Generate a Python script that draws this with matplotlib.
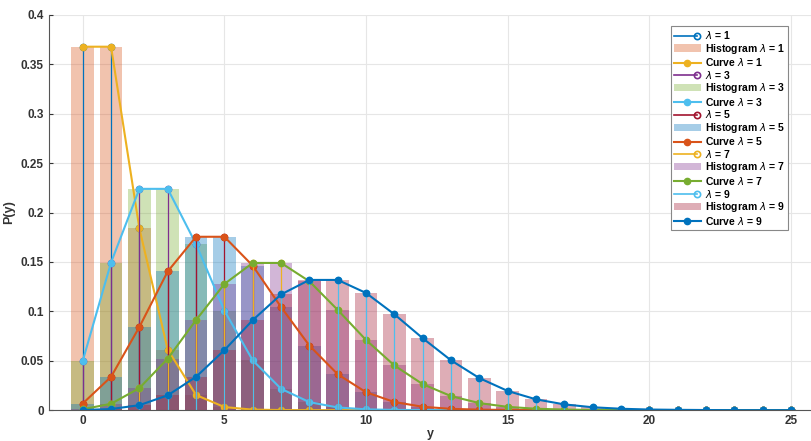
import matplotlib
matplotlib.use("Agg")
import matplotlib.pyplot as plt
from matplotlib.lines import Line2D
from matplotlib.patches import Patch
from matplotlib.legend_handler import HandlerLine2D
import numpy as np

plt.rcParams['font.family'] = ['Liberation Sans', 'DejaVu Sans']

y_vals = list(range(0, 26))
lambdas = [1, 3, 5, 7, 9]

p_l1 = [0.3679, 0.3679, 0.1839, 0.0613, 0.0153, 0.0031, 0.0005, 0.0001] + [0.0] * 18
p_l3 = [0.0498, 0.1494, 0.2240, 0.2240, 0.1680, 0.1008, 0.0504, 0.0216, 0.0081, 0.0027,
        0.0008, 0.0002, 0.0001] + [0.0] * 13
p_l5 = [0.0067, 0.0337, 0.0842, 0.1404, 0.1755, 0.1755, 0.1462, 0.1044, 0.0653, 0.0363,
        0.0181, 0.0082, 0.0034, 0.0013, 0.0005, 0.0002] + [0.0] * 10
p_l7 = [0.0009, 0.0064, 0.0223, 0.0521, 0.0912, 0.1277, 0.1490, 0.1490, 0.1304, 0.1014,
        0.0710, 0.0452, 0.0263, 0.0142, 0.0071, 0.0033, 0.0014, 0.0006, 0.0002, 0.0001] + [0.0] * 6
p_l9 = [0.0001, 0.0011, 0.0050, 0.0150, 0.0337, 0.0607, 0.0911, 0.1171, 0.1318, 0.1318,
        0.1186, 0.0970, 0.0728, 0.0504, 0.0324, 0.0194, 0.0109, 0.0058, 0.0029, 0.0014,
        0.0006, 0.0003, 0.0001, 0.0, 0.0, 0.0]
pmfs = [p_l1, p_l3, p_l5, p_l7, p_l9]

mcolors = ['#0072BD', '#D95319', '#EDB120', '#7E2F8E', '#77AC30', '#4DBEEE', '#A2142F']


class StemHandler(HandlerLine2D):
    def create_artists(self, legend, orig_handle, xdescent, ydescent, width, height,
                       fontsize, trans):
        arts = super().create_artists(legend, orig_handle, xdescent, ydescent, width,
                                      height, fontsize, trans)
        for a in arts:
            if isinstance(a, Line2D):
                x = np.asarray(a.get_xdata(), dtype=float).copy()
                x[-1] = x[-1] - 3.0
                a.set_xdata(x)
                a.set_markevery([len(x) - 1])
        return arts


fig = plt.figure(figsize=(8.12, 4.41), dpi=100)
ax = fig.add_axes([0.060, 0.070, 0.94, 0.896])

handles = []
labels = []
stem_handles = []
ci = 0
for lam, p in zip(lambdas, pmfs):
    c_stem = mcolors[ci % 7]; c_bar = mcolors[(ci + 1) % 7]; c_cur = mcolors[(ci + 2) % 7]
    ci += 3
    ml, sl, bl = ax.stem(y_vals, p, basefmt=' ')
    plt.setp(sl, color=c_stem, linewidth=0.9)
    plt.setp(ml, color=c_stem, marker='o', markersize=4.5, markerfacecolor='none', markeredgewidth=1.0)
    ax.bar(y_vals, p, width=0.8, color=c_bar, alpha=0.35, linewidth=0)
    ax.plot(y_vals, p, '-o', color=c_cur, linewidth=1.5, markersize=4.5,
            markerfacecolor=c_cur, markeredgecolor=c_cur, markeredgewidth=1.0)
    sh = Line2D([0], [0], color=c_stem, linewidth=1.2, marker='o', markersize=4.5,
                markerfacecolor='none', markeredgewidth=1.2)
    stem_handles.append(sh)
    handles.append(sh)
    labels.append(r'$\lambda$ = %d' % lam)
    handles.append(Patch(facecolor=c_bar, alpha=0.35, linewidth=0))
    labels.append(r'Histogram $\lambda$ = %d' % lam)
    handles.append(Line2D([0], [0], color=c_cur, linewidth=1.5, marker='o', markersize=4.5,
                          markerfacecolor=c_cur, markeredgewidth=1.0))
    labels.append(r'Curve $\lambda$ = %d' % lam)

ax.set_xlim(-1.2, 25.74)
ax.set_ylim(0, 0.4)
ax.set_xticks([0, 5, 10, 15, 20, 25])
ax.set_yticks([0, 0.05, 0.1, 0.15, 0.2, 0.25, 0.3, 0.35, 0.4])
ax.set_yticklabels(['0', '0.05', '0.1', '0.15', '0.2', '0.25', '0.3', '0.35', '0.4'])
ax.grid(True, color='#e6e6e6', linewidth=0.8)
ax.set_axisbelow(True)
for s in ['top', 'right']:
    ax.spines[s].set_visible(False)
for s in ['left', 'bottom']:
    ax.spines[s].set_color('#555555')
ax.tick_params(colors='#333333', labelsize=8.5, length=3, direction='in')
for lab in ax.get_xticklabels() + ax.get_yticklabels():
    lab.set_fontweight('bold')
ax.set_xlabel('y', fontsize=9, fontweight='bold', color='#333333', labelpad=1)
ax.set_ylabel('P(y)', fontsize=9, fontweight='bold', color='#333333', labelpad=4)

hmap = {h: StemHandler() for h in stem_handles}
leg = ax.legend(handles, labels, loc='upper right', bbox_to_anchor=(0.975, 0.985),
                prop={'weight': 'bold', 'size': 7.5}, handlelength=2.6, labelspacing=0.05,
                borderpad=0.3, handletextpad=0.4, frameon=True, fancybox=False,
                edgecolor='#888888', framealpha=1.0, handler_map=hmap)
leg.get_frame().set_linewidth(0.8)

fig.savefig('out.png', dpi=100)
